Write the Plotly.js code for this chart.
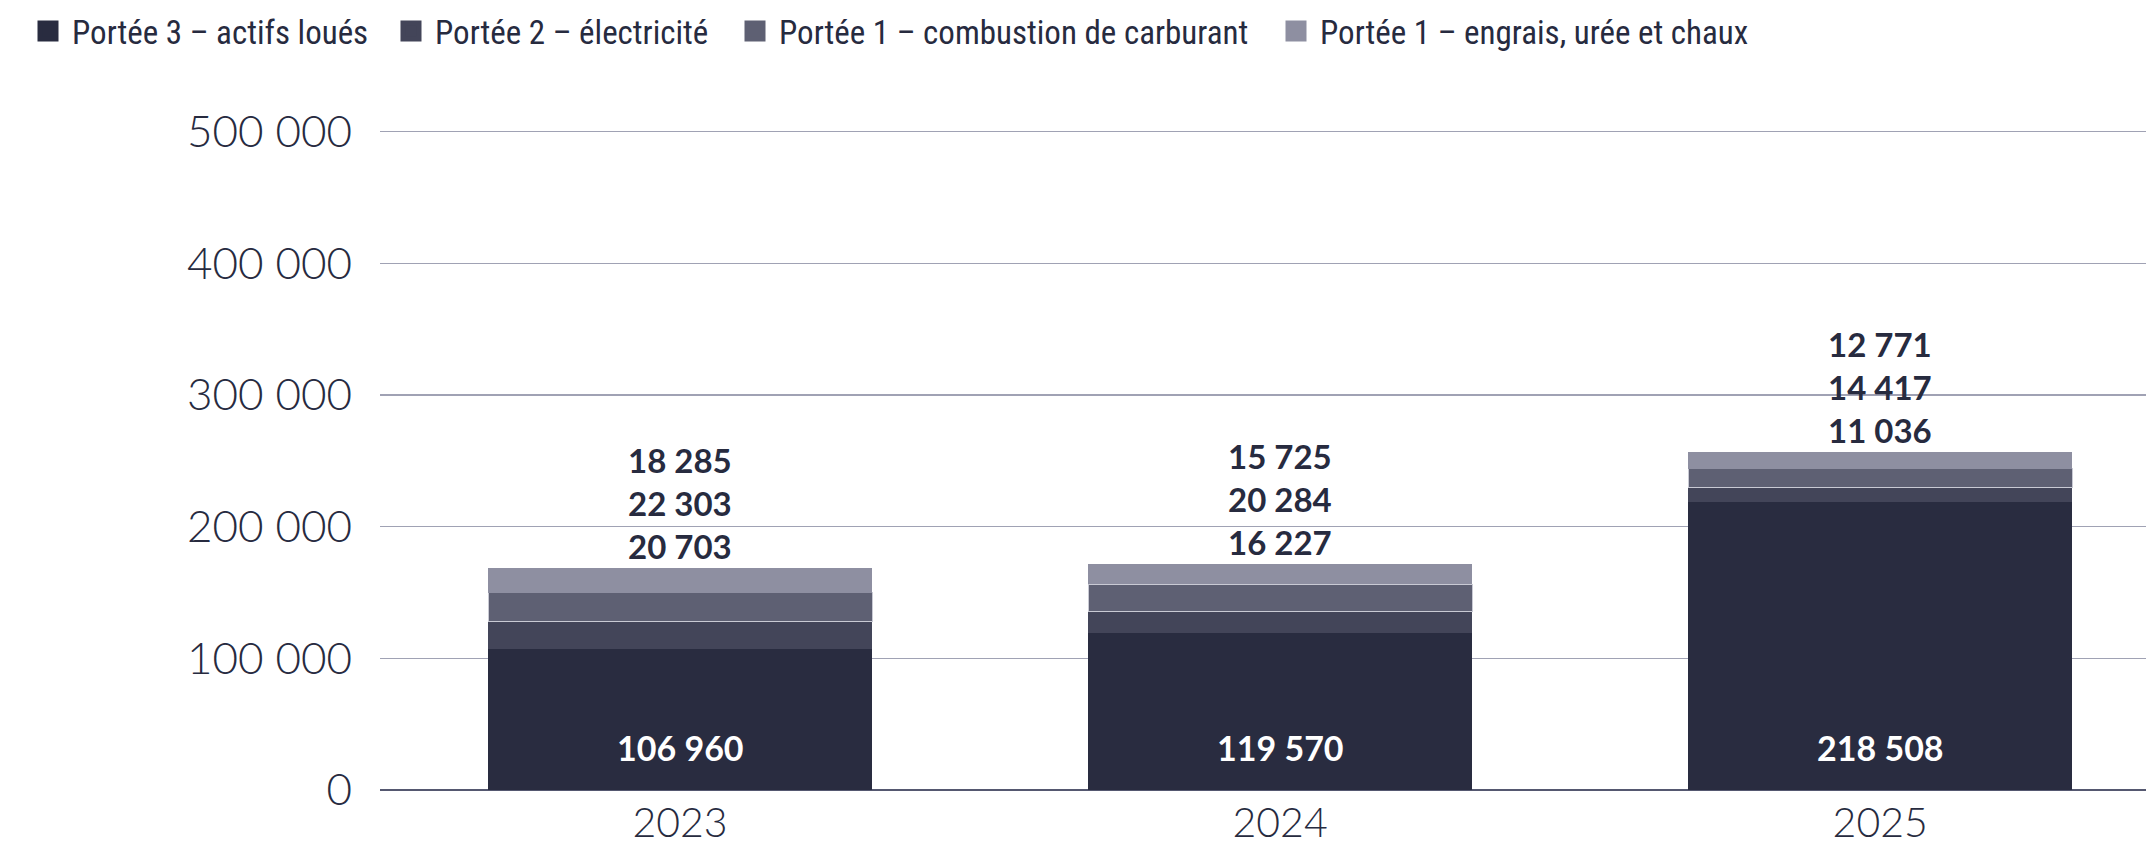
<!DOCTYPE html>
<html>
<head>
<meta charset="utf-8">
<script src="https://cdn.plot.ly/plotly-3.0.1.min.js"></script>
<style>
  html, body { margin: 0; padding: 0; background: #fff; }
  #plot { width: 2146px; height: 848px; }
</style>
</head>
<body>
<div id="plot"></div>
<script>
var years = ['2023', '2024', '2025'];

var seriesNames = [
  'Portée 3 – actifs loués',
  'Portée 2 – électricité',
  'Portée 1 – combustion de carburant',
  'Portée 1 – engrais, urée et chaux'
];

var scope3Leased = [106960, 119570, 218508];
var scope2Power = [20703, 16227, 11036];
var scope1Fuel = [22303, 20284, 14417];
var scope1Fert = [18285, 15725, 12771];

var colors = ['#292c40', '#434559', '#5e6073', '#8e8fa1'];
var textColor = '#272b3f';
var legendFont = "'Liberation Sans Narrow', 'Roboto Condensed', 'DejaVu Sans Condensed', sans-serif";
var mainFont = 'Lato, Roboto, sans-serif';

var values = [scope3Leased, scope2Power, scope1Fuel, scope1Fert];
var legendIds = ['legend', 'legend2', 'legend3', 'legend4'];
// left edge of each legend entry, in px of the page
var legendLeft = [24, 387, 731, 1272];

function fmt(v) {
  return String(v).replace(/\B(?=(\d{3})+(?!\d))/g, ' ');
}

var data = [];
values.forEach(function (vals, i) {
  data.push({
    type: 'bar',
    x: years,
    y: vals,
    name: seriesNames[i],
    width: 0.64,
    showlegend: false,
    marker: {
      color: colors[i],
      line: { color: i === 2 ? '#c9cad4' : colors[i], width: i === 2 ? 1 : 0 }
    },
    hoverinfo: 'none'
  });
});
// legend entries (bigger squares than the bar legend symbol allows)
values.forEach(function (vals, i) {
  data.push({
    type: 'scatter',
    mode: 'markers',
    x: [null],
    y: [null],
    name: seriesNames[i],
    legend: legendIds[i],
    showlegend: true,
    marker: { symbol: 'square', size: 16, color: colors[i], line: { color: colors[i], width: 5 } },
    hoverinfo: 'none'
  });
});

var annotations = [];
years.forEach(function (yr, j) {
  var total = scope3Leased[j] + scope2Power[j] + scope1Fuel[j] + scope1Fert[j];
  annotations.push({
    x: j, y: total, xref: 'x', yref: 'y',
    text: [fmt(scope1Fert[j]), fmt(scope1Fuel[j]), fmt(scope2Power[j])].join('<br>'),
    showarrow: false, yanchor: 'bottom',
    font: { family: mainFont, size: 33, weight: 700, color: textColor }
  });
  annotations.push({
    x: j, y: 0, xref: 'x', yref: 'y',
    text: fmt(scope3Leased[j]),
    showarrow: false, yanchor: 'bottom', yshift: 20,
    font: { family: mainFont, size: 34, weight: 700, color: '#ffffff' }
  });
});

var layout = {
  width: 2146,
  height: 848,
  barmode: 'stack',
  separators: ', ',
  paper_bgcolor: '#ffffff',
  plot_bgcolor: '#ffffff',
  margin: { l: 380, r: 0, t: 125, b: 58 },
  font: { family: mainFont, color: textColor },
  xaxis: {
    type: 'category',
    range: [-0.5, 2.443],
    showgrid: false,
    showline: false,
    zeroline: false,
    ticks: '',
    ticklabelstandoff: 5,
    tickfont: { family: mainFont, size: 41, weight: 300, color: textColor },
    automargin: false
  },
  yaxis: {
    range: [0, 505000],
    tickvals: [0, 100000, 200000, 300000, 400000, 500000],
    tickformat: ',',
    showgrid: true,
    gridcolor: '#a0a2b4',
    gridwidth: 1.5,
    zeroline: true,
    zerolinecolor: '#555870',
    zerolinewidth: 2,
    showline: false,
    ticks: '',
    ticklabelstandoff: 27,
    tickfont: { family: mainFont, size: 44, weight: 300, color: textColor },
    automargin: false
  },
  annotations: annotations
};

legendIds.forEach(function (id, i) {
  layout[id] = {
    orientation: 'h',
    xref: 'container', yref: 'container',
    x: legendLeft[i] / 2146, y: 1 - 31 / 848,
    xanchor: 'left', yanchor: 'middle',
    itemwidth: 38,
    bgcolor: 'rgba(0,0,0,0)',
    font: { family: legendFont, size: 33, color: textColor }
  };
});

Plotly.newPlot('plot', data, layout, { displayModeBar: false, staticPlot: true });
</script>
</body>
</html>
